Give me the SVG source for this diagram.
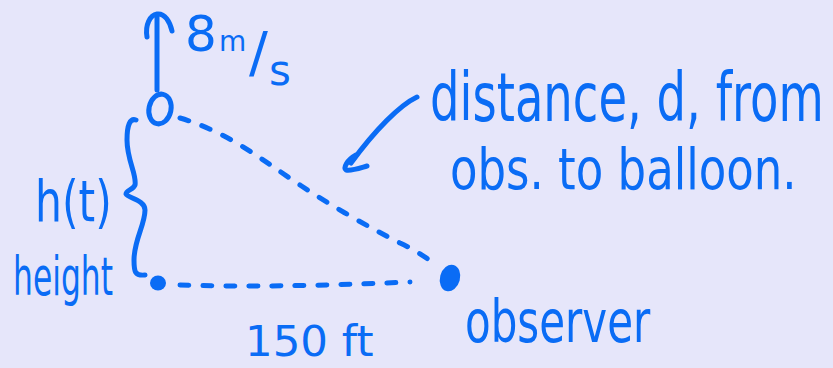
<svg xmlns="http://www.w3.org/2000/svg" width="833" height="368" viewBox="0 0 833 368">
<style>
.ink{fill:none;stroke:#0A6CF5;stroke-width:5;stroke-linecap:round;stroke-linejoin:round}
.dash{stroke-dasharray:9 14}
.dot{fill:#0A6CF5}
text{fill:#0A6CF5;font-family:"DejaVu Sans","Liberation Sans",sans-serif}
</style>
<rect width="833" height="368" fill="#E6E6FA"/>
<g id="connectors">
<path class="ink" d="M157,90 L157,16"/>
<path class="ink" d="M147,37 C145,25 150,15 157,14 C165,13 170,22 172,31"/>
<path class="ink dash" d="M180,118 C230,133 262,160 300,185 C330,205 370,228 400,243 C415,250 428,258 436,266"/>
<path class="ink dash" d="M180,285 C240,287 320,286 410,282"/>
<path class="ink" d="M417,97 C400,105 375,130 351,163"/>
<path class="ink" d="M356,155 C347,160 343,168 346,170 C352,171 360,168 367,166"/>
<path class="ink" d="M136,120 C130,118 127,125 127,140 C127,160 137,175 135,185 C133,190 126,190 126,194 C128,198 145,200 145,210 C145,225 134,240 134,260 C134,272 135,276 145,275"/>
</g>
<g id="balloon">
<ellipse class="ink" cx="160" cy="109" rx="11" ry="15" transform="rotate(12 160 109)"/>
</g>
<g id="ground">
<ellipse class="dot" cx="158" cy="283" rx="8" ry="7.5"/>
</g>
<g id="observer">
<ellipse class="dot" cx="450" cy="278" rx="10" ry="13.5" transform="rotate(15 450 278)"/>
</g>
<g id="labels">
<text x="185" y="51" font-size="50">8<tspan x="219" font-size="28">m</tspan><tspan x="249" y="71" font-size="56">/</tspan><tspan x="269" y="85" font-size="42">s</tspan></text>
<text transform="translate(35,221) scale(1,1.35)" font-size="42.5">h(t)</text>
<text transform="translate(13,295) scale(1,1.7)" font-size="31.4">height</text>
<text transform="translate(430,121) scale(1,1.45)" font-size="46.5">distance, d, from</text>
<text transform="translate(450,189) scale(1,1.28)" font-size="45">obs. to balloon.</text>
<text x="245" y="356" font-size="43.5">150 ft</text>
<text transform="translate(465,342) scale(1,1.4)" font-size="42">observer</text>
</g>
</svg>
